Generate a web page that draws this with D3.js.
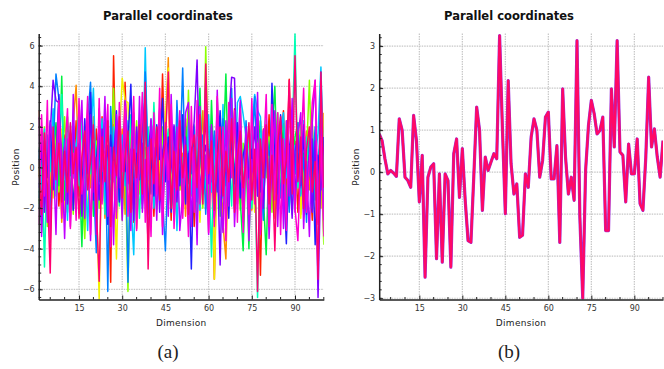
<!DOCTYPE html>
<html>
<head>
<meta charset="utf-8">
<script src="https://cdn.jsdelivr.net/npm/d3@7"></script>
<style>
  body { margin: 0; background: #fff; }
  svg { font-family: "DejaVu Sans", sans-serif; }
</style>
</head>
<body>
<svg id="fig" width="664" height="369"></svg>
<script>
// x ticks shared by both panels
const xTicks = [15, 30, 45, 60, 75, 90]
const leftYTicks = [-6, -4, -2, 0, 2, 4, 6]
const rightYTicks = [-3, -2, -1, 0, 1, 2, 3]

// panel (a): one line per sample, dimensions 1..100
const sRed = [2.8,-1.2,0.6,-2.4,1.1,-0.8,2.0,-1.9,0.4,1.6, -2.2,0.9,-0.5,2.3,-1.4,0.2,-2.8,1.7,0.8,-1.1, 1.9,-0.7,2.5,-2.0,0.5,-5.65,5.5,-1.3,0.9,-2.1, 4.2,-0.6,1.3,-2.7,0.3,2.2,-1.8,0.7,-0.9,1.5, -2.4,0.8,-1.1,4.6,-0.3,1.2,-2.6,2.0,-0.4,0.9, -1.7,2.4,-0.8,1.0,-2.9,0.6,1.8,-1.2,2.7,-0.5, 0.4,-5.5,2.1,-1.0,0.7,-2.3,1.6,-0.2,2.9,-1.8, 0.3,-2.5,1.4,-0.7,2.2,-1.5,0.6,-5.3,1.9,-0.4, 2.6,-1.3,0.5,-2.0,1.1,2.8,-1.6,4.35,-0.9,1.3, -2.2,0.8,2.0,-1.4,0.1,-2.6,1.7,-0.6,2.4,-1.9]
const sOrange = [-0.5,1.8,-2.1,0.9,-1.3,2.4,-0.2,1.1,-2.7,0.6, 1.5,-1.6,2.2,4.05,-0.8,0.3,-2.0,1.3,-1.0,2.5, -1.7,0.4,1.6,-2.5,0.8,-0.6,2.1,-1.4,0.2,1.9, -2.3,0.9,-0.1,1.7,-3.0,0.5,2.6,-1.2,1.0,-0.7, 2.0,-1.9,0.6,-0.5,1.4,5.4,-2.2,0.3,1.8,-1.1, 0.7,-2.4,2.3,-0.3,1.2,-1.5,0.1,2.8,-2.0,0.9, -1.2,1.5,-0.6,2.0,-2.8,-4.5,1.1,0.4,1.7,-0.9, 2.4,-1.4,0.2,1.9,-2.1,0.6,-0.8,2.3,-1.7,1.0, -0.4,1.6,-2.5,0.8,2.1,-1.0,0.3,-1.9,2.6,-0.2, 1.2,-2.3,0.5,1.8,-1.1,2.2,-0.7,0.4,-2.0,2.7]
const sYellow = [0.3,-2.6,1.2,-0.4,2.1,-1.5,0.8,-0.1,1.9,-2.2, 0.6,1.4,-1.8,0.2,2.3,-0.9,1.0,-2.4,0.7,1.6, -1.3,-6.5,2.0,-0.5,1.1,-1.9,0.4,-4.5,1.5,4.4, 3.3,3.2,-1.0,0.8,-2.0,1.6,-0.3,2.2,-1.6,0.5, 1.3,-2.1,0.9,-0.8,2.5,4.9,-1.4,0.2,-2.6,1.7, -0.6,1.0,-1.9,2.1,-0.2,0.7,-2.7,1.4,0.3,-1.1, 2.2,-5.5,0.6,1.3,-1.7,0.9,-0.4,2.4,-2.0,0.5, 1.1,-1.3,2.0,-0.9,0.4,-2.2,1.8,-0.6,0.2,1.5, -2.0,0.7,1.9,-1.2,0.3,-0.7,2.3,-1.8,0.9,-0.3, 1.4,-2.5,0.6,-0.1,2.0,-1.6,0.8,0.0,1.2,-2.3]
const sLime = [-1.8,0.5,2.0,-2.9,0.9,-0.3,1.6,-1.2,0.2,2.5, -0.7,1.1,-2.3,0.6,1.9,-1.0,-3.5,0.8,2.2,-0.4, 1.3,-2.0,0.1,1.8,-1.5,0.7,3.9,-0.9,1.2,-2.6, 0.4,-6.1,1.7,-0.5,2.3,-1.3,0.6,1.0,-2.2,0.8, -0.2,1.5,-1.7,2.0,-0.6,0.3,1.8,-2.5,0.9,-1.1, 2.4,-0.8,3.8,-1.4,0.5,-0.3,1.6,-2.0,5.95,-0.7, 1.0,-2.3,3.3,-0.9,1.4,-1.6,0.2,2.1,-1.0,0.6, -2.1,1.2,-0.4,1.9,-1.5,0.3,2.5,-1.8,0.7,-0.5, 1.5,-2.2,0.9,2.7,-1.3,0.1,1.3,-0.8,2.0,-1.7, 0.4,2.2,-1.2,0.6,4.3,-0.9,1.1,-1.5,0.5,-3.8]
const sGreen = [1.0,-3.2,-0.6,1.4,-2.0,0.7,2.2,-0.9,4.5,-1.6, 2.5,-0.4,1.2,-1.8,0.3,-3.9,1.5,-0.7,2.0,-2.4, 0.6,1.7,-1.1,0.2,2.3,-2.0,0.9,-0.5,1.6,-1.3, 2.1,-0.8,0.4,1.8,-2.3,0.7,-1.0,2.4,-0.2,1.1, -1.9,0.5,2.2,-1.4,0.8,-0.3,1.9,-2.6,0.3,1.4, -1.2,2.0,-0.5,0.9,-2.1,1.3,3.9,-1.0,0.6,-1.8, 3.3,-0.6,1.2,-2.4,0.4,4.6,-1.3,0.8,-0.2,2.1, -1.6,-4.1,0.7,-4.0,1.8,-0.8,0.5,2.3,-1.4,-4.3, 0.9,1.7,4.0,-1.1,0.3,2.1,-2.0,0.6,-0.4,1.5, 2.2,-1.3,0.7,-2.1,1.6,-0.5,1.0,-2.4,0.8,1.3]
const sTeal = [-2.0,1.5,-4.9,0.8,-0.2,2.0,-1.4,1.0,3.6,-0.6, 1.7,-2.2,0.3,1.2,-0.9,2.4,-1.7,0.6,-0.3,1.9, -1.5,0.8,2.1,-2.3,0.4,1.3,-0.7,1.8,-1.9,0.2, 1.4,-1.1,2.6,-0.4,0.9,-2.5,1.1,-0.1,2.0,-1.2, 3.2,-0.5,1.6,-2.0,0.7,1.9,-1.3,0.2,2.3,-0.8, 0.5,-1.7,1.4,-0.2,2.1,-2.4,0.8,1.2,-1.0,0.4, -4.4,1.6,-0.7,2.2,-1.5,0.3,1.0,-1.9,2.7,-0.5, 3.2,-1.2,0.6,1.4,-2.0,0.1,-6.4,1.7,-0.9,2.4, -1.4,0.5,1.9,-0.6,2.5,-1.8,0.7,-0.2,1.3,6.6, -1.0,0.8,-2.2,1.5,-0.4,2.1,-1.6,0.6,1.2,-0.9]
const sCyan = [0.6,-1.1,1.9,-2.3,0.4,2.9,-0.8,1.3,-1.6,0.2, -2.6,2.1,-0.5,1.0,2.8,-1.9,0.7,-3.1,1.5,3.9, -1.0,0.3,2.4,-1.7,1.0,-0.3,2.0,-2.2,0.5,1.6, -0.9,2.3,-1.5,-4.3,1.8,0.2,-1.1,5.9,-0.6,1.2, -2.0,0.9,2.5,-0.7,1.1,-1.8,0.3,2.0,-3.1,0.6, 1.7,-0.9,2.2,-1.3,0.4,1.5,-2.1,0.8,-0.4,2.6, -1.2,0.5,1.9,-0.8,3.1,-2.0,0.6,1.2,-1.5,3.2, 3.5,2.6,1.5,-0.6,1.8,3.6,2.8,2.5,-1.1,0.9, -1.9,2.0,0.3,-0.9,1.4,2.7,-0.5,0.8,-2.3,1.1, 0.2,-1.4,2.3,-0.8,1.0,-2.0,0.5,1.7,4.95,-0.3]
const sAzure = [-1.5,0.8,-0.2,1.6,-2.4,0.5,4.6,3.4,-0.9,1.4, 0.2,-1.8,2.0,-0.6,1.1,-2.2,0.9,2.4,4.2,-0.5, -4.2,1.2,-1.0,2.2,-6.1,3.0,-0.4,1.3,-1.6,0.7, 2.5,-5.65,0.6,1.9,-0.8,1.4,-2.0,4.7,0.3,-1.3, 1.0,-0.6,2.8,-1.5,-4.1,0.5,1.7,-2.4,3.3,0.2, 4.9,-1.1,0.8,-0.3,2.0,-1.7,0.4,1.6,-2.3,0.9, -0.7,1.8,-1.2,0.6,2.4,-0.9,1.3,3.9,-2.0,0.1, 1.5,-1.8,2.3,-0.5,0.8,3.5,-1.4,0.3,-2.6,1.9, 0.6,1.1,-0.8,2.1,-1.5,0.4,1.2,-2.2,0.9,-0.3, 2.2,-1.0,0.5,-2.7,1.3,-0.6,2.0,-1.7,4.7,-2.0]
const sBlue = [0.9,-2.6,1.3,-0.5,2.3,-1.1,0.4,3.6,-1.9,0.8, -0.8,1.7,-2.1,0.5,1.2,-1.4,2.4,-0.2,3.7,-1.6, 0.3,2.0,-1.2,0.8,-2.8,1.6,-0.5,2.8,-1.7,0.4, -0.2,1.2,4.1,-1.8,0.7,-0.6,1.9,3.5,-2.3,0.6, -1.4,2.1,0.4,3.4,-0.7,1.5,-2.2,0.2,1.3,-0.9, 2.6,-1.8,0.7,-5.0,1.2,-0.4,2.0,-1.3,4.2,-0.6, 1.4,-2.4,0.5,2.8,-1.0,0.3,-2.5,1.7,-0.8,2.2, -1.5,0.6,1.3,-2.0,0.9,-0.7,2.4,-1.2,0.2,1.6, -2.1,4.15,0.3,-1.3,2.6,-0.5,-3.75,0.9,2.2,-1.4, 0.7,-0.9,1.8,-2.3,0.4,1.4,-3.8,0.6,-1.1,1.5]
const sViolet = [-1.0,1.2,-2.2,0.6,1.7,4.3,3.3,3.2,-0.7,1.0, -1.8,0.3,2.1,-0.9,0.8,-2.4,1.4,-0.3,2.6,-1.2, 0.5,-1.6,1.9,-0.4,1.1,-2.1,0.7,2.3,-1.0,0.2, 1.6,-0.8,0.9,-2.6,2.0,-0.3,1.2,-1.5,0.4,2.4, -0.6,1.3,-2.2,0.8,1.7,-1.1,0.0,2.1,-1.7,0.9, -0.4,1.5,-2.0,0.6,2.3,5.3,-1.3,0.4,1.1,-0.8, 2.0,-1.6,0.5,-4.8,1.3,-0.2,2.4,4.45,4.4,-1.1, 0.8,-2.3,1.6,-0.5,0.3,2.0,-1.4,0.9,-2.0,1.2, -0.7,1.9,-1.2,0.5,2.3,-1.6,0.4,1.1,-2.5,0.8, 1.6,-0.4,2.1,-1.3,0.6,-2.2,1.3,-6.4,0.2,1.0]
const sPurple = [2.5,-3.4,0.9,-2.7,2.2,1.1,-3.3,2.7,0.8,-3.5, 1.4,-2.9,3.6,-2.0,1.0,3.3,-2.5,2.2,-3.6,1.2, -3.3,2.9,-0.2,3.5,-2.4,1.0,-3.8,2.6,0.9,-2.6, 3.3,1.1,-3.1,2.7,-1.5,3.5,-2.2,0.4,-3.9,2.3, 0.8,-2.6,2.9,-3.3,1.5,-2.4,3.6,-1.0,2.0,-3.1, -1.3,2.7,3.2,-2.9,1.0,-3.8,3.0,-1.2,0.6,-3.3, 2.1,-2.5,3.8,-1.4,-3.2,2.3,-1.9,3.4,-2.9,0.5, 3.3,-2.7,2.0,-3.6,0.4,-1.2,3.7,-3.1,1.8,2.1, -3.5,0.2,2.8,-2.9,1.6,-3.0,2.3,-1.4,3.4,-2.2, 1.5,2.7,-3.0,0.3,-3.4,2.2,4.3,-2.7,2.4,-2.6]
const sMagenta = [-2.8,2.6,-1.4,3.3,-3.7,1.1,-0.1,3.3,-2.5,0.6, 2.9,-3.0,0.7,-2.6,3.4,-1.3,0.2,3.5,-3.3,0.9, -2.4,3.4,-1.8,0.8,3.1,-3.9,0.3,-2.5,3.2,-0.2, 3.0,-2.4,0.6,3.5,-3.1,0.2,3.7,-2.7,1.0,-3.4, 2.7,-1.3,3.9,-2.9,2.2,-0.6,3.1,-3.0,0.4,2.8, -2.5,0.6,-3.4,3.0,-2.2,3.3,-1.8,0.5,3.5,-3.2, 0.7,-2.9,3.5,-1.3,2.0,-3.6,3.2,-0.5,2.8,-2.7, 2.9,-3.2,0.6,-2.3,3.4,-1.8,1.2,-3.3,0.4,3.6, -2.9,3.1,-1.6,2.7,-3.3,1.4,-3.1,2.9,1.7,-2.0, -3.6,0.6,3.9,-2.2,0.3,3.2,4.3,-2.8,1.5,-3.4]
const sPink = [0.4,-2.3,1.7,-0.9,-5.2,2.0,-0.6,1.2,-1.7,0.8, -1.2,2.2,-0.3,1.0,-2.5,0.5,1.8,-1.1,0.3,2.1, -1.9,-5.6,1.5,-0.7,2.3,-2.9,1.0,-0.4,2.5,-1.5, 0.6,1.8,-2.2,0.9,-0.5,2.1,-1.3,4.2,-5.0,1.4, -0.8,2.0,-1.6,0.3,1.2,4.7,-2.0,0.8,-1.1,2.3, -0.5,1.1,-2.3,0.7,1.6,-1.0,2.6,-1.8,5.1,-0.3, 1.3,-2.1,0.4,2.0,-1.4,0.8,-0.7,2.4,-2.2,0.5, 1.8,-1.0,0.3,2.2,-1.6,0.9,-6.1,1.4,-0.5,2.1, -1.8,0.6,-4.1,1.2,2.5,-0.8,0.4,4.3,-1.3,5.5, -0.7,1.5,-2.0,0.9,2.0,-1.2,0.3,-5.5,4.7,-1.0]

const leftSeries = [sRed, sOrange, sYellow, sLime, sGreen, sTeal, sCyan, sAzure, sBlue, sViolet, sPurple, sMagenta, sPink]
const leftColors = ["#ff2000", "#ff8c00", "#f2f000", "#8cff00", "#00f040", "#00ffb4", "#00c8ff", "#0080ff", "#2020ff", "#8000ff", "#c000ff", "#ff00d0", "#ff0070"]

// panel (b): the lines almost coincide
const rightValues = [0.91,0.75,0.32,-0.04,0.04,-0.02,-0.1,1.27,1.0,-0.12, -0.2,-0.36,1.35,0.75,-0.71,0.4,-2.5,-0.12,0.12,0.2, -2.06,-0.04,-2.14,-0.04,-0.2,-2.26,0.44,0.79,-0.6,0.56, -0.67,-1.63,-1.67,-0.1,1.55,1.0,-0.91,0.36,0.04,0.24, 0.44,0.32,3.25,1.0,-0.99,2.18,0.2,-0.52,-0.28,-1.55, -1.5,-0.04,-0.36,0.83,1.27,1.0,-0.12,0.28,1.31,1.43, -0.16,-0.16,0.63,-1.67,1.98,0.36,-0.52,-0.12,-0.67,3.13, -1.07,-3.0,0.04,1.11,1.71,1.39,0.91,0.99,1.31,-1.39, -1.39,1.98,0.6,3.13,0.48,0.4,-0.71,0.67,-0.04,-0.04, 0.79,-0.75,-0.91,0.36,2.26,0.6,1.03,0.36,-0.12,0.75]
const rightSeries = [rightValues, rightValues]
const rightColors = ["#9b30d9", "#ff0866"]

const svg = d3.select("#fig")
const plotTop = 33.5
const plotBottom = 299.5

function drawPanel(p) {
  const x = d3.scaleLinear().domain([1, 100]).range([p.left, p.right])
  const y = d3.scaleLinear().domain(p.yDomain).range([plotBottom, plotTop])
  const g = svg.append("g")

  // dotted grid
  g.append("g").selectAll("line").data(xTicks).join("line")
    .attr("x1", d => x(d)).attr("x2", d => x(d))
    .attr("y1", plotTop).attr("y2", plotBottom)
    .attr("stroke", "#c6c6c6").attr("stroke-width", 1.2).attr("stroke-dasharray", "1.5,1")
  g.append("g").selectAll("line").data(p.yTicks).join("line")
    .attr("x1", p.left).attr("x2", p.right)
    .attr("y1", d => y(d)).attr("y2", d => y(d))
    .attr("stroke", "#c6c6c6").attr("stroke-width", 1.2).attr("stroke-dasharray", "1.5,1")

  // lines, clipped to the plot
  g.append("clipPath").attr("id", "clip-" + p.name)
    .append("rect").attr("x", p.left).attr("y", plotTop)
    .attr("width", p.right - p.left).attr("height", plotBottom - plotTop)
  const line = d3.line().x((d, i) => x(i + 1)).y(d => y(d))
  g.append("g").attr("clip-path", "url(#clip-" + p.name + ")")
    .selectAll("path").data(p.series).join("path")
    .attr("d", line)
    .attr("fill", "none")
    .attr("stroke", (d, i) => p.colors[i])
    .attr("stroke-width", (d, i) => p.widths[i])
    .attr("stroke-linejoin", "round")

  // minor ticks
  const minorX = d3.range(5, 101, 5).filter(v => !xTicks.includes(v))
  g.append("g").selectAll("line").data(minorX).join("line")
    .attr("x1", d => x(d)).attr("x2", d => x(d))
    .attr("y1", plotBottom).attr("y2", plotBottom - 2.5)
    .attr("stroke", "#222").attr("stroke-width", 1)
  const minorY = d3.range(p.minorStart, p.yDomain[1], p.minorStep)
  g.append("g").selectAll("line").data(minorY).join("line")
    .attr("x1", p.left).attr("x2", p.left + 2.5)
    .attr("y1", d => y(d)).attr("y2", d => y(d))
    .attr("stroke", "#222").attr("stroke-width", 1)

  // axes
  const xAxis = g.append("g").attr("transform", `translate(0,${plotBottom})`)
    .call(d3.axisBottom(x).tickValues(xTicks).tickSize(-4).tickSizeOuter(0).tickPadding(6))
  const yAxis = g.append("g").attr("transform", `translate(${p.left},0)`)
    .call(d3.axisLeft(y).tickValues(p.yTicks).tickFormat(d3.format("d"))
      .tickSize(-4).tickSizeOuter(0).tickPadding(4))
  ;[xAxis, yAxis].forEach(a => {
    a.select(".domain").attr("stroke", "#222").attr("stroke-width", 1.5)
    a.selectAll(".tick line").attr("stroke", "#222")
    a.selectAll("text").attr("font-family", "DejaVu Sans").attr("font-size", 8).attr("fill", "#333")
  })

  // title and labels
  svg.append("text")
    .attr("x", p.titleX).attr("y", 19.5)
    .attr("text-anchor", "middle")
    .attr("font-size", 12.5).attr("font-weight", "bold").attr("fill", "#111")
    .attr("textLength", 130).attr("lengthAdjust", "spacingAndGlyphs")
    .text("Parallel coordinates")
  svg.append("text")
    .attr("x", (p.left + p.right) / 2).attr("y", 325.5)
    .attr("text-anchor", "middle").attr("font-size", 9).attr("fill", "#222")
    .attr("letter-spacing", 0.3)
    .text("Dimension")
  svg.append("text")
    .attr("transform", `translate(${p.ylabelX},167) rotate(-90)`)
    .attr("text-anchor", "middle").attr("font-size", 9).attr("fill", "#222")
    .attr("letter-spacing", 0.3)
    .text("Position")
  svg.append("text")
    .attr("x", p.titleX).attr("y", 358)
    .attr("text-anchor", "middle")
    .style("font-family", "'Liberation Serif', 'DejaVu Serif', serif")
    .attr("font-size", 19).attr("fill", "#222")
    .text(p.caption)
}

drawPanel({
  name: "a", left: 38.7, right: 323.8, yDomain: [-6.5, 6.6], yTicks: leftYTicks,
  minorStart: -6.4, minorStep: 0.4,
  series: leftSeries, colors: leftColors, widths: leftSeries.map(() => 1.5),
  titleX: 168, ylabelX: 18.5, caption: "(a)"
})
drawPanel({
  name: "b", left: 379.2, right: 663, yDomain: [-3.03, 3.3], yTicks: rightYTicks,
  minorStart: -3.0, minorStep: 0.2,
  series: rightSeries, colors: rightColors, widths: [3.2, 2.3],
  titleX: 509, ylabelX: 358.5, caption: "(b)"
})
</script>
</body>
</html>
